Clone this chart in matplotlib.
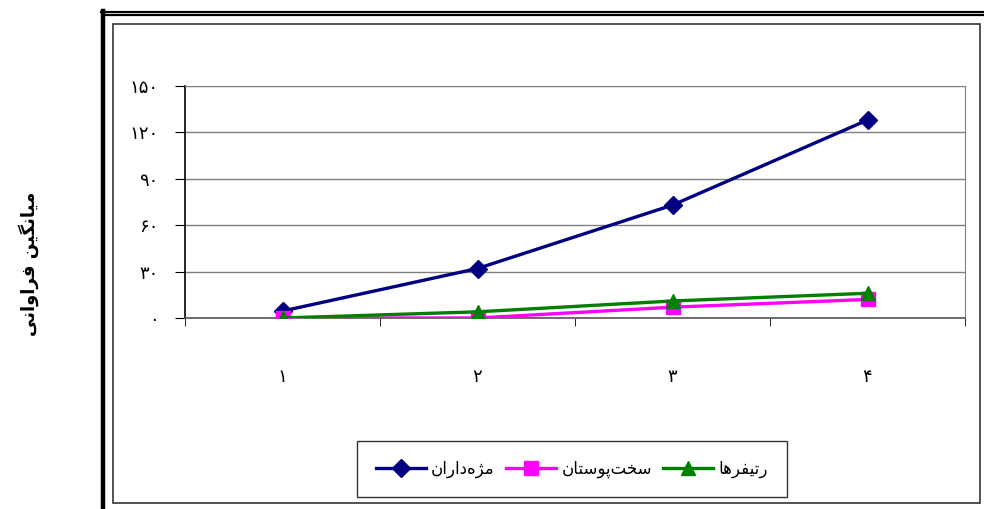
import matplotlib
matplotlib.use("Agg")
import matplotlib.pyplot as plt
from matplotlib.lines import Line2D
from matplotlib.patches import Rectangle

# ---------------- data ----------------
categories = ["۱", "۲", "۳", "۴"]
series_names = ["مژه\u200cداران", "سخت\u200cپوستان", "رتیفرها"]
ciliates = [4.5, 32, 73, 128]
crustaceans = [0, 0, 7, 12]
rotifers = [0, 4, 11, 16]
y_ticks = [0, 30, 60, 90, 120, 150]
y_tick_labels = ["۰", "۳۰", "۶۰", "۹۰", "۱۲۰", "۱۵۰"]
y_label = "میانگین فراوانی"

# ---------------- simple Persian shaping ----------------
FORMS = {
    "ا": ("\uFE8D", "\uFE8E", None, None),
    "ب": ("\uFE8F", "\uFE90", "\uFE91", "\uFE92"),
    "پ": ("\uFB56", "\uFB57", "\uFB58", "\uFB59"),
    "ت": ("\uFE95", "\uFE96", "\uFE97", "\uFE98"),
    "خ": ("\uFEA5", "\uFEA6", "\uFEA7", "\uFEA8"),
    "د": ("\uFEA9", "\uFEAA", None, None),
    "ر": ("\uFEAD", "\uFEAE", None, None),
    "ژ": ("\uFB8A", "\uFB8B", None, None),
    "س": ("\uFEB1", "\uFEB2", "\uFEB3", "\uFEB4"),
    "ف": ("\uFED1", "\uFED2", "\uFED3", "\uFED4"),
    "گ": ("\uFB92", "\uFB93", "\uFB94", "\uFB95"),
    "م": ("\uFEE1", "\uFEE2", "\uFEE3", "\uFEE4"),
    "ن": ("\uFEE5", "\uFEE6", "\uFEE7", "\uFEE8"),
    "ه": ("\uFEE9", "\uFEEA", "\uFEEB", "\uFEEC"),
    "و": ("\uFEED", "\uFEEE", None, None),
    "ی": ("\uFBFC", "\uFBFD", "\uFBFE", "\uFBFF"),
}


def shape(s):
    out = []
    n = len(s)
    for i, c in enumerate(s):
        if c == "\u200c":
            continue
        if c not in FORMS:
            out.append(c)
            continue
        prev = s[i - 1] if i > 0 else None
        nxt = s[i + 1] if i + 1 < n else None
        jp = prev in FORMS and FORMS[prev][2] is not None
        jn = nxt in FORMS and FORMS[c][2] is not None
        iso, fin, ini, med = FORMS[c]
        if jp and jn:
            out.append(med)
        elif jp:
            out.append(fin)
        elif jn:
            out.append(ini)
        else:
            out.append(iso)
    return "".join(out[::-1])


plt.rcParams["font.family"] = ["DejaVu Sans"]

W, H = 984, 509
fig = plt.figure(figsize=(W / 100, H / 100), dpi=100)


def fx(px):
    return px / W


def fy(py):
    return 1 - py / H


# outer decorations
fig.add_artist(Line2D([fx(103), fx(103)], [fy(11), fy(509)], color="black", lw=3.2))
fig.add_artist(Line2D([fx(101), fx(984)], [fy(11.5), fy(11.5)], color="black", lw=1.6))
fig.add_artist(Line2D([fx(105), fx(984)], [fy(15), fy(15)], color="black", lw=1.6))
# inner chart box
fig.add_artist(Rectangle((fx(113), fy(503)), fx(980) - fx(113), fy(24) - fy(503),
                         transform=fig.transFigure, fill=False, edgecolor="#333333", lw=1.2))

ax = fig.add_axes([fx(185), fy(318), fx(965) - fx(185), fy(86) - fy(318)])
x = [1, 2, 3, 4]
ax.plot(x, ciliates, color="#000080", lw=2.4, marker="D", ms=9.5,
        markerfacecolor="#000080", markeredgecolor="#000080", zorder=3,
        label=shape(series_names[0]))
ax.plot(x, crustaceans, color="#FF00FF", lw=2.4, marker="s", ms=9.5,
        markerfacecolor="#FF00FF", markeredgecolor="#FF00FF", zorder=4,
        label=shape(series_names[1]))
ax.plot(x, rotifers, color="#008000", lw=2.4, marker="^", ms=9.5,
        markerfacecolor="#008000", markeredgecolor="#008000", zorder=5,
        label=shape(series_names[2]))

ax.set_xlim(0.5, 4.5)
ax.set_ylim(0, 150)
ax.set_yticks(y_ticks)
ax.set_yticklabels(y_tick_labels, fontsize=13)
ax.set_xticks(x)
ax.set_xticklabels(categories, fontsize=13)
ax.set_xticks([0.5, 1.5, 2.5, 3.5, 4.5], minor=True)
ax.tick_params(axis="x", which="major", length=0, pad=36)
ax.tick_params(axis="x", which="minor", length=6, direction="out", color="black")
ax.tick_params(axis="y", length=7, direction="out", pad=12, color="black")
ax.yaxis.grid(True, color="#808080", lw=1.0)
ax.set_axisbelow(True)
for side in ("top", "right"):
    ax.spines[side].set_color("#808080")
ax.spines["left"].set_color("black")
ax.spines["bottom"].set_color("#555555")
ax.spines["left"].set_linewidth(1.2)
ax.spines["bottom"].set_linewidth(1.2)

fig.text(fx(29), fy(264), shape(y_label), rotation=90, ha="center", va="center",
         fontsize=13, fontweight="bold")

leg = fig.legend(loc="center", bbox_to_anchor=(fx(572), fy(469)), ncol=3,
                 fontsize=12, frameon=True, fancybox=False, edgecolor="black",
                 handlelength=3.0, columnspacing=0.7, borderpad=1.15, handletextpad=0.3,
                 borderaxespad=0)
leg.get_frame().set_linewidth(1.0)

fig.savefig("out.png", dpi=100)
